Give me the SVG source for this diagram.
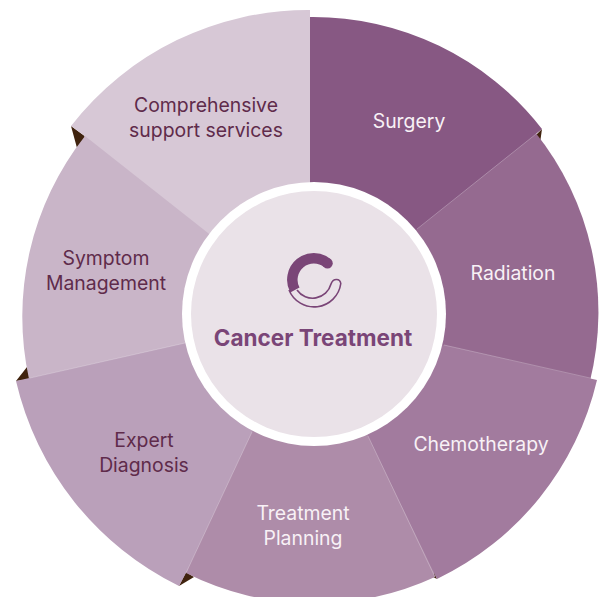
<svg xmlns="http://www.w3.org/2000/svg" width="603" height="597" viewBox="0 0 603 597">
<style>
text{font-family:Inter,"Liberation Sans",sans-serif;font-size:19.4px;text-anchor:middle}
.l{fill:#f8f1f6}.d{fill:#5f2b4b}.t{fill:#40230e}
.s{stroke:#fff;stroke-opacity:.35;stroke-width:.7;fill:none}
</style>
<rect width="603" height="597" fill="#fff"/>
<g id="tips">
<path class="t" d="M71,126L86,137L77,148Z"/>
<path class="t" d="M542,129L534,137L540,143Z"/>
<path class="t" d="M16,381L31,379L27,367Z"/>
<path class="t" d="M179,586L186,572L194,577Z"/>
<path class="t" d="M437,579L429,575L434,572Z"/>
</g>
<g id="seg-comprehensive"><path fill="#d7c8d6" d="M71,126A300,300 0 0 1 310,10V314L210,240L85,138L84,135.5Z"/>
<text class="d" x="206" y="112">Comprehensive</text><text class="d" x="206" y="137">support services</text></g>
<g id="seg-symptom"><path fill="#c9b5c8" d="M85,136A292,292 0 0 0 29,379L190,350L314,314L208,233Z"/>
<text class="d" x="106" y="265">Symptom</text><text class="d" x="106" y="290">Management</text></g>
<g id="seg-expert"><path fill="#baa0ba" d="M16,381A305,305 0 0 0 179,586L186,573L260,440L314,314L185,343Z"/>
<text class="d" x="144" y="447">Expert</text><text class="d" x="144" y="472">Diagnosis</text></g>
<g id="seg-planning"><path fill="#ae8ca9" d="M186,573A287,287 0 0 0 435,577L420,500L340,400L314,314L252,432Z"/>
<text class="l" x="303" y="520">Treatment</text><text class="l" x="303" y="545">Planning</text></g>
<g id="seg-radiation"><path fill="#956a90" d="M535,132A287,287 0 0 1 590,381L450,370L314,314L400,200Z"/>
<text class="l" x="513" y="280">Radiation</text></g>
<g id="seg-chemo"><path fill="#a27b9e" d="M597,380A295,295 0 0 1 437,579L368,436L314,314L444,345Z"/>
<text class="l" x="481" y="451">Chemotherapy</text></g>
<g id="seg-surgery"><path fill="#875883" d="M310,17A290,290 0 0 1 542,129L417,229L314,314H310Z"/>
<text class="l" x="409" y="128">Surgery</text></g>
<g id="seams">
<path class="s" d="M417,229L536,134M444,345L590,378M368,436L435,577M252,432L186,573M185,343L30,378"/>
</g>
<g id="center">
<circle cx="314" cy="314" r="132" fill="#fff"/>
<circle cx="314" cy="314" r="123" fill="#eae2e8"/>
<path d="M294.9,290A21.5,21.5 0 0 1 327.5,263.2" fill="none" stroke="#7a4577" stroke-width="10.5"/>
<circle cx="327.5" cy="263.2" r="5.25" fill="#7a4577"/>
<path d="M289,290A27,27 0 0 0 340.8,283.5C340,278 333,278 331,284A19,19 0 0 1 297,290" fill="none" stroke="#7a4577" stroke-width="1.6"/>
<text x="313" y="346" style="font-size:22.5px;font-weight:700" fill="#7a4577">Cancer Treatment</text>
</g>
</svg>
